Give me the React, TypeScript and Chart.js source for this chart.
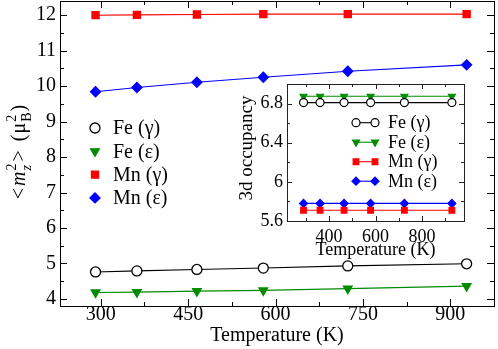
import { useEffect, useRef } from 'react';
import { Chart, registerables } from 'chart.js';

Chart.register(...registerables);

const FONT = '"Liberation Serif", "Times New Roman", serif';

// ---- data ----
const temperatures = [291, 362, 465, 579, 724, 928];
const seriesLabels = ['Fe (γ)', 'Fe (ε)', 'Mn (γ)', 'Mn (ε)'];

const feGammaM2 = [4.76, 4.79, 4.83, 4.87, 4.93, 4.99];
const feEpsM2 = [4.18, 4.19, 4.22, 4.24, 4.29, 4.36];
const mnGammaM2 = [12.0, 12.01, 12.02, 12.03, 12.03, 12.03];
const mnEpsM2 = [9.84, 9.96, 10.11, 10.25, 10.42, 10.6];

const feGammaOcc = [6.81, 6.81, 6.81, 6.81, 6.81, 6.81];
const feEpsOcc = [6.875, 6.875, 6.875, 6.875, 6.875, 6.875];
const mnGammaOcc = [5.71, 5.71, 5.71, 5.71, 5.71, 5.71];
const mnEpsOcc = [5.78, 5.78, 5.78, 5.78, 5.78, 5.78];

const mainXTicks = [300, 450, 600, 750, 900];
const mainYTicks = [4, 5, 6, 7, 8, 9, 10, 11, 12];
const insetXTicks = [400, 600, 800];
const insetYTicks = [5.6, 6, 6.4, 6.8];

const mainXTitle = 'Temperature (K)';
const insetXTitle = 'Temperature (K)';
const insetYTitle = '3d occupancy';

// ---- styles ----
const STYLES = [
  { color: '#000000', fill: '#ffffff', shape: 'circle', rot: 0 },
  { color: '#008b00', fill: '#008b00', shape: 'triangle', rot: 180 },
  { color: '#ff0000', fill: '#ff0000', shape: 'rect', rot: 0 },
  { color: '#0000ff', fill: '#0000ff', shape: 'rectRot', rot: 0 },
];

function minorTicks(min: number, max: number, anchor: number, step: number) {
  const out: number[] = [];
  let v = anchor;
  while (v - step >= min - 1e-9) v -= step;
  for (; v <= max + 1e-9; v += step) out.push(+v.toFixed(6));
  return out;
}

function drawMarker(ctx: CanvasRenderingContext2D, shape: string, x: number, y: number, r: number, fill: string, stroke: string, lw: number) {
  ctx.save();
  ctx.beginPath();
  if (shape === 'circle') {
    ctx.arc(x, y, r, 0, Math.PI * 2);
  } else if (shape === 'triangle') {
    const s = Math.sin(Math.PI / 3) * r;
    ctx.moveTo(x, y + r);
    ctx.lineTo(x - s, y - r / 2);
    ctx.lineTo(x + s, y - r / 2);
    ctx.closePath();
  } else if (shape === 'rect') {
    const s = Math.SQRT1_2 * r;
    ctx.rect(x - s, y - s, 2 * s, 2 * s);
  } else {
    ctx.moveTo(x - r, y);
    ctx.lineTo(x, y - r);
    ctx.lineTo(x + r, y);
    ctx.lineTo(x, y + r);
    ctx.closePath();
  }
  ctx.fillStyle = fill;
  ctx.fill();
  ctx.lineWidth = lw;
  ctx.strokeStyle = stroke;
  ctx.stroke();
  ctx.restore();
}

const whiteArea = {
  id: 'whiteArea',
  beforeDraw(chart: any, _a: any, opts: any) {
    if (!opts || !opts.enabled) return;
    const { ctx, chartArea: ca } = chart;
    ctx.save();
    ctx.fillStyle = '#ffffff';
    ctx.fillRect(ca.left, ca.top, ca.right - ca.left, ca.bottom - ca.top);
    ctx.restore();
  },
};

const frameTicks = {
  id: 'frameTicks',
  afterDraw(chart: any, _a: any, o: any) {
    if (!o || !o.xMajor) return;
    const { ctx, chartArea: ca, scales } = chart;
    const xs = scales.x, ys = scales.y;
    ctx.save();
    ctx.strokeStyle = o.color || '#000';
    ctx.lineWidth = 1;
    ctx.beginPath();
    const xAll = [...o.xMinor.map((v: number) => [v, o.minor]), ...o.xMajor.map((v: number) => [v, o.major])];
    for (const [v, len] of xAll) {
      const px = Math.round(xs.getPixelForValue(v)) + 0.5;
      if (px <= ca.left + 1 || px >= ca.right - 1) continue;
      ctx.moveTo(px, ca.bottom);
      ctx.lineTo(px, ca.bottom - len);
      ctx.moveTo(px, ca.top);
      ctx.lineTo(px, ca.top + len);
    }
    const yAll = [...o.yMinor.map((v: number) => [v, o.minor]), ...o.yMajor.map((v: number) => [v, o.major])];
    for (const [v, len] of yAll) {
      const py = Math.round(ys.getPixelForValue(v)) + 0.5;
      if (py <= ca.top + 1 || py >= ca.bottom - 1) continue;
      ctx.moveTo(ca.left, py);
      ctx.lineTo(ca.left + len, py);
      ctx.moveTo(ca.right, py);
      ctx.lineTo(ca.right - len, py);
    }
    ctx.stroke();
    ctx.lineWidth = o.frameWidth || 1;
    ctx.strokeRect(Math.round(ca.left) + 0.5, Math.round(ca.top) + 0.5, Math.round(ca.right - ca.left), Math.round(ca.bottom - ca.top));
    ctx.restore();
  },
};

const legendPlugin = {
  id: 'customLegend',
  afterDraw(chart: any, _a: any, o: any) {
    if (!o || o.x === undefined) return;
    const { ctx } = chart;
    ctx.save();
    ctx.font = `${o.fontSize}px ${FONT}`;
    ctx.textBaseline = 'middle';
    ctx.textAlign = 'left';
    chart.data.datasets.forEach((ds: any, i: number) => {
      const y = o.y + i * o.dy;
      const st = STYLES[i];
      if (o.lineLen > 0) {
        ctx.beginPath();
        ctx.strokeStyle = st.color;
        ctx.lineWidth = ds.borderWidth;
        ctx.moveTo(o.x, y);
        ctx.lineTo(o.x + o.lineLen, y);
        ctx.stroke();
        drawMarker(ctx, st.shape, o.x, y, o.r, st.fill, st.color, ds.pointBorderWidth);
        drawMarker(ctx, st.shape, o.x + o.lineLen, y, o.r, st.fill, st.color, ds.pointBorderWidth);
      } else {
        drawMarker(ctx, st.shape, o.x, y, o.r, st.fill, st.color, ds.pointBorderWidth);
      }
      ctx.fillStyle = '#000';
      ctx.fillText(ds.label, o.textX, y + 1);
    });
    ctx.restore();
  },
};

const titlesPlugin = {
  id: 'titles',
  afterDraw(chart: any, _a: any, o: any) {
    if (!o) return;
    const { ctx, chartArea: ca } = chart;
    ctx.save();
    ctx.fillStyle = '#000';
    if (o.xTitle) {
      ctx.font = `${o.xSize}px ${FONT}`;
      ctx.textAlign = 'center';
      ctx.textBaseline = 'alphabetic';
      ctx.fillText(o.xTitle, (ca.left + ca.right) / 2 + (o.xShift || 0), o.xBaseline);
    }
    if (o.yTitle) {
      ctx.translate(o.yX, o.yCenter);
      ctx.rotate(-Math.PI / 2);
      ctx.font = `${o.ySize}px ${FONT}`;
      ctx.textAlign = 'center';
      ctx.textBaseline = 'middle';
      ctx.fillText(o.yTitle, 0, 0);
    }
    if (o.richY) {
      ctx.translate(o.richY.x, o.richY.y);
      ctx.rotate(-Math.PI / 2);
      const big = `20px ${FONT}`, bigI = `italic 20px ${FONT}`;
      const sm = `14px ${FONT}`, smI = `italic 14px ${FONT}`;
      type Part = { t?: string; f?: string; gap?: number; sup?: [string, string]; sub?: [string, string] };
      const parts: Part[] = [
        { t: '<', f: big }, { gap: 2 },
        { t: 'm', f: bigI }, { gap: 1 },
        { sup: ['2', sm], sub: ['z', smI] }, { gap: 2 },
        { t: '>', f: big }, { gap: 9 },
        { t: '(', f: big }, { gap: 1 },
        { t: 'μ', f: big }, { gap: 1 },
        { sup: ['2', sm], sub: ['B', sm] }, { gap: 1 },
        { t: ')', f: big },
      ];
      const widthOf = (p: Part) => {
        if (p.gap !== undefined) return p.gap;
        if (p.t) { ctx.font = p.f; return ctx.measureText(p.t).width; }
        ctx.font = p.sup![1]; const a = ctx.measureText(p.sup![0]).width;
        ctx.font = p.sub![1]; const b = ctx.measureText(p.sub![0]).width;
        return Math.max(a, b);
      };
      const total = parts.reduce((s, p) => s + widthOf(p), 0);
      let u = -total / 2;
      ctx.textBaseline = 'alphabetic';
      ctx.textAlign = 'left';
      for (const p of parts) {
        const w = widthOf(p);
        if (p.t) { ctx.font = p.f; ctx.fillText(p.t, u, 0); }
        else if (p.sup) {
          ctx.font = p.sup[1]; ctx.fillText(p.sup[0], u, -9);
          ctx.font = p.sub![1]; ctx.fillText(p.sub![0], u, 6);
        }
        u += w;
      }
    }
    ctx.restore();
  },
};

Chart.register(whiteArea, frameTicks, legendPlugin, titlesPlugin);

function makeDatasets(values: number[][], radius: number, bw: number, lw: number) {
  return values.map((vals, i) => {
    const st = STYLES[i];
    return {
      label: seriesLabels[i],
      data: temperatures.map((t, k) => ({ x: t, y: vals[k] })),
      borderColor: st.color,
      backgroundColor: st.fill,
      borderWidth: lw,
      pointStyle: st.shape,
      pointRotation: st.rot,
      pointRadius: radius,
      pointBorderWidth: bw,
      pointBackgroundColor: st.fill,
      pointBorderColor: st.color,
      tension: 0,
      fill: false,
    };
  });
}

const tickFont = (size: number) => ({ family: FONT, size });

const zeroPad = (s: any) => {
  s.paddingTop = 0;
  s.paddingBottom = 0;
  s.paddingLeft = 0;
  s.paddingRight = 0;
};

export default function App() {
  const mainRef = useRef<HTMLCanvasElement>(null);
  const insetRef = useRef<HTMLCanvasElement>(null);

  useEffect(() => {
    const mainChart = new Chart(mainRef.current!, {
      type: 'line',
      data: { datasets: makeDatasets([feGammaM2, feEpsM2, mnGammaM2, mnEpsM2], 5, 1.3, 1.1) as any },
      options: {
        animation: false,
        responsive: false,
        events: [],
        layout: { autoPadding: false, padding: { left: 0, right: 4, top: 1, bottom: 0 } },
        plugins: {
          legend: { display: false },
          tooltip: { enabled: false },
          frameTicks: {
            xMajor: mainXTicks, xMinor: minorTicks(230, 975, 300, 75),
            yMajor: mainYTicks, yMinor: minorTicks(3.8, 12.4, 4, 0.5),
            major: 7, minor: 4, frameWidth: 1,
          },
          customLegend: { x: 95, textX: 113, y: 128, dy: 23.3, fontSize: 20, r: 5, lineLen: 0 },
          titles: { xTitle: mainXTitle, xSize: 20, xBaseline: 341, richY: { x: 25, y: 152 } },
        } as any,
        scales: {
          x: {
            type: 'linear', min: 230, max: 975,
            grid: { display: false, drawTicks: false }, border: { display: false },
            ticks: { font: tickFont(20), color: '#000', padding: -3, maxRotation: 0, autoSkip: false, callback: (v: any) => String(v) },
            afterBuildTicks: (s: any) => { s.ticks = mainXTicks.map((v) => ({ value: v })); },
            afterFit: (s: any) => { s.height = 43; zeroPad(s); },
          },
          y: {
            type: 'linear', min: 3.8, max: 12.4,
            grid: { display: false, drawTicks: false }, border: { display: false },
            ticks: { font: tickFont(20), color: '#000', padding: 4, autoSkip: false, callback: (v: any) => String(v) },
            afterBuildTicks: (s: any) => { s.ticks = mainYTicks.map((v) => ({ value: v })); },
            afterFit: (s: any) => { s.width = 60; zeroPad(s); },
          },
        } as any,
      },
    });

    const insetChart = new Chart(insetRef.current!, {
      type: 'line',
      data: { datasets: makeDatasets([feGammaOcc, feEpsOcc, mnGammaOcc, mnEpsOcc], 4, 1.2, 1.1) as any },
      options: {
        animation: false,
        responsive: false,
        events: [],
        layout: { autoPadding: false, padding: { left: 0, right: 6, top: 14, bottom: 0 } },
        plugins: {
          legend: { display: false },
          tooltip: { enabled: false },
          whiteArea: { enabled: true },
          frameTicks: {
            xMajor: insetXTicks, xMinor: minorTicks(220, 980, 400, 100),
            yMajor: insetYTicks, yMinor: minorTicks(5.6, 7.0, 5.6, 0.2),
            major: 5, minor: 3, frameWidth: 1, color: '#222',
          },
          customLegend: { x: 126, textX: 158, y: 52.7, dy: 19.5, fontSize: 18, r: 4, lineLen: 19 },
          titles: { xTitle: insetXTitle, xSize: 18, xBaseline: 185, yTitle: insetYTitle, ySize: 19, yX: 17, yCenter: 78 },
        } as any,
        scales: {
          x: {
            type: 'linear', min: 220, max: 980,
            grid: { display: false, drawTicks: false }, border: { display: false },
            ticks: { font: tickFont(18), color: '#000', padding: 5, maxRotation: 0, autoSkip: false, callback: (v: any) => String(v) },
            afterBuildTicks: (s: any) => { s.ticks = insetXTicks.map((v) => ({ value: v })); },
            afterFit: (s: any) => { s.height = 39; zeroPad(s); },
          },
          y: {
            type: 'linear', min: 5.6, max: 7.0,
            grid: { display: false, drawTicks: false }, border: { display: false },
            ticks: { font: tickFont(18), color: '#000', padding: 4, autoSkip: false, callback: (v: any) => String(v) },
            afterBuildTicks: (s: any) => { s.ticks = insetYTicks.map((v) => ({ value: v })); },
            afterFit: (s: any) => { s.width = 57; zeroPad(s); },
          },
        } as any,
      },
    });

    return () => {
      mainChart.destroy();
      insetChart.destroy();
    };
  }, []);

  return (
    <div style={{ position: 'fixed', left: 0, top: 0, width: 498, height: 349, background: '#fff' }}>
      <canvas ref={mainRef} width={498} height={349} style={{ position: 'absolute', left: 0, top: 0, width: 498, height: 349 }} />
      <canvas ref={insetRef} width={240} height={190} style={{ position: 'absolute', left: 230, top: 70, width: 240, height: 190 }} />
    </div>
  );
}
